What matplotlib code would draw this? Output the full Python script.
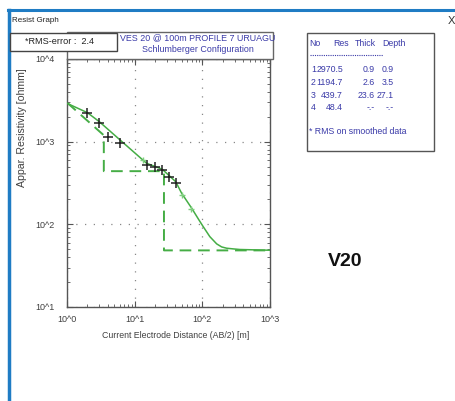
import numpy as np
import matplotlib
matplotlib.use("Agg")
import matplotlib.pyplot as plt
from matplotlib.patches import Rectangle
from matplotlib.lines import Line2D
from matplotlib.ticker import FixedLocator, FixedFormatter, LogLocator, NullFormatter

plt.rcParams["font.family"] = ["Liberation Sans", "DejaVu Sans"]

# measured field data (AB/2 [m], apparent resistivity [ohmm])
ab2 = [2.0, 3.0, 4.0, 6.0, 15.0, 20.0, 25.6, 32.5, 40.3]
rho = [2245, 1698, 1148, 973, 523, 490, 455, 378, 314]

# smoothed data points
smooth_x = [13.3, 49.4, 68.0]
smooth_y = [601, 226, 152]

# fitted curve
curve_x = [1.0, 2.0, 3.0, 6.07, 15.0, 25.6, 40.4, 49.4, 69.5, 89.1, 103, 129,
           163, 193, 229, 282, 359, 1000]
curve_y = [2911, 2244, 1746, 1050, 548, 463, 328, 238, 157, 113, 93.8, 71.0,
           58.0, 53.3, 51.4, 50.5, 49.6, 48.6]

# layer model
layer_no = [1, 2, 3, 4]
layer_res = [2970.5, 1194.7, 439.7, 48.4]
layer_thick = ["0.9", "2.6", "23.6", "-.-"]
layer_depth = ["0.9", "3.5", "27.1", "-.-"]
model_x = [1.0, 3.5, 3.5, 27.1, 27.1, 1000]
model_y = [2970.5, 1194.7, 439.7, 439.7, 48.4, 48.4]

xticks = [1, 10, 100, 1000]
xlabels = ["10^0", "10^1", "10^2", "10^3"]
yticks = [10, 100, 1000, 10000]
ylabels = ["10^1", "10^2", "10^3", "10^4"]

W, H = 455, 401
fig = plt.figure(figsize=(W / 100, H / 100), dpi=100)
fig.patch.set_facecolor("white")

def fx(px):
    return px / W

def fy(py):
    return 1 - py / H

green = "#45ad45"
blue_txt = "#3a3aa8"
gray_txt = "#404040"

# window frame
fig.add_artist(Line2D([fx(8), 1], [fy(9.5), fy(9.5)], color="#1f7cc4", lw=2.2))
fig.add_artist(Line2D([fx(9), fx(9)], [fy(9.5), 0], color="#1f7cc4", lw=2.5))
fig.text(fx(12), fy(21), "Resist Graph", fontsize=5.8, va="center", ha="left", color="#222222")
fig.text(fx(451), fy(21), "X", fontsize=8, va="center", ha="center", color="#333333")

ax = fig.add_axes([fx(67), fy(307), fx(270) - fx(67), fy(59) - fy(307)])
ax.set_xscale("log")
ax.set_yscale("log")
ax.set_xlim(1, 1000)
ax.set_ylim(10, 10000)

ax.plot(model_x, model_y, color=green, lw=1.4, ls=(0, (6, 3.5)), zorder=2)
ax.plot(curve_x, curve_y, color=green, lw=1.1, zorder=3)
ax.plot(smooth_x, smooth_y, ls="none", marker="+", color="#7fcf7f", ms=5, mew=1.0, zorder=4)
ax.plot(ab2, rho, ls="none", marker="+", color="#222222", ms=7, mew=1.1, zorder=5)

ax.xaxis.set_major_locator(FixedLocator(xticks))
ax.xaxis.set_major_formatter(FixedFormatter(xlabels))
ax.yaxis.set_major_locator(FixedLocator(yticks))
ax.yaxis.set_major_formatter(FixedFormatter(ylabels))
ax.xaxis.set_minor_locator(LogLocator(base=10, subs=np.arange(2, 10)))
ax.yaxis.set_minor_locator(LogLocator(base=10, subs=np.arange(2, 10)))
ax.xaxis.set_minor_formatter(NullFormatter())
ax.yaxis.set_minor_formatter(NullFormatter())
ax.tick_params(which="both", direction="in", top=True, right=True, colors="#555555",
               labelcolor=gray_txt, labelsize=6.5)
ax.tick_params(which="major", length=4, width=0.8)
ax.tick_params(which="minor", length=2, width=0.6)
ax.tick_params(axis="x", pad=6)
ax.tick_params(axis="y", pad=9)
ax.grid(True, which="major", color="#888888", lw=0.9, ls=(0, (1, 6)))
for s in ax.spines.values():
    s.set_color("#555555")
    s.set_linewidth(1.0)

fig.text(fx(22), fy(128), "Appar. Resistivity [ohmm]", rotation=90, fontsize=7.6,
         color=gray_txt, ha="center", va="center")
fig.text(fx(176), fy(336), "Current Electrode Distance (AB/2) [m]", fontsize=6.3,
         color=gray_txt, ha="center", va="center")

# title box and rms box
fig.add_artist(Rectangle((fx(67), fy(59)), fx(273) - fx(67), fy(32) - fy(59),
                         facecolor="white", edgecolor="#666666", lw=1.0, zorder=5))
fig.text(fx(198), fy(38), "VES 20 @ 100m PROFILE 7 URUAGU", fontsize=6.4, color=blue_txt,
         ha="center", va="center", zorder=6)
fig.text(fx(198), fy(49), "Schlumberger Configuration", fontsize=6.4, color=blue_txt,
         ha="center", va="center", zorder=6)
fig.add_artist(Rectangle((fx(10), fy(51)), fx(117) - fx(10), fy(33) - fy(51),
                         facecolor="white", edgecolor="#444444", lw=1.0, zorder=7))
fig.text(fx(59), fy(42), "*RMS-error :  2.4", fontsize=6.6, color="#222222",
         ha="center", va="center", zorder=8)

# layer table
fig.add_artist(Rectangle((fx(307), fy(151)), fx(434) - fx(307), fy(33) - fy(151),
                         facecolor="white", edgecolor="#555555", lw=1.0))
fs = 6.3
fig.text(fx(309), fy(43), "No", fontsize=fs, color=blue_txt, va="center")
fig.text(fx(333), fy(43), "Res", fontsize=fs, color=blue_txt, va="center")
fig.text(fx(355), fy(43), "Thick", fontsize=fs, color=blue_txt, va="center")
fig.text(fx(382), fy(43), "Depth", fontsize=fs, color=blue_txt, va="center")
fig.add_artist(Line2D([fx(310), fx(383)], [fy(55), fy(55)], color=blue_txt, lw=0.8,
                      ls=(0, (1, 1))))
row_y = [70, 82.5, 95, 107.5]
for i in range(len(layer_no)):
    y = fy(row_y[i])
    fig.text(fx(311), y, str(layer_no[i]), fontsize=fs, color=blue_txt, va="center")
    fig.text(fx(343), y, "%.1f" % layer_res[i], fontsize=fs, color=blue_txt, va="center", ha="right")
    fig.text(fx(375), y, layer_thick[i], fontsize=fs, color=blue_txt, va="center", ha="right")
    fig.text(fx(394), y, layer_depth[i], fontsize=fs, color=blue_txt, va="center", ha="right")
fig.text(fx(309), fy(131.5), "* RMS on smoothed data", fontsize=fs, color=blue_txt, va="center")

fig.text(fx(345), fy(262), "V20", fontsize=14, fontweight="bold", color="#111111",
         ha="center", va="center")

fig.savefig("out.png", dpi=100)
